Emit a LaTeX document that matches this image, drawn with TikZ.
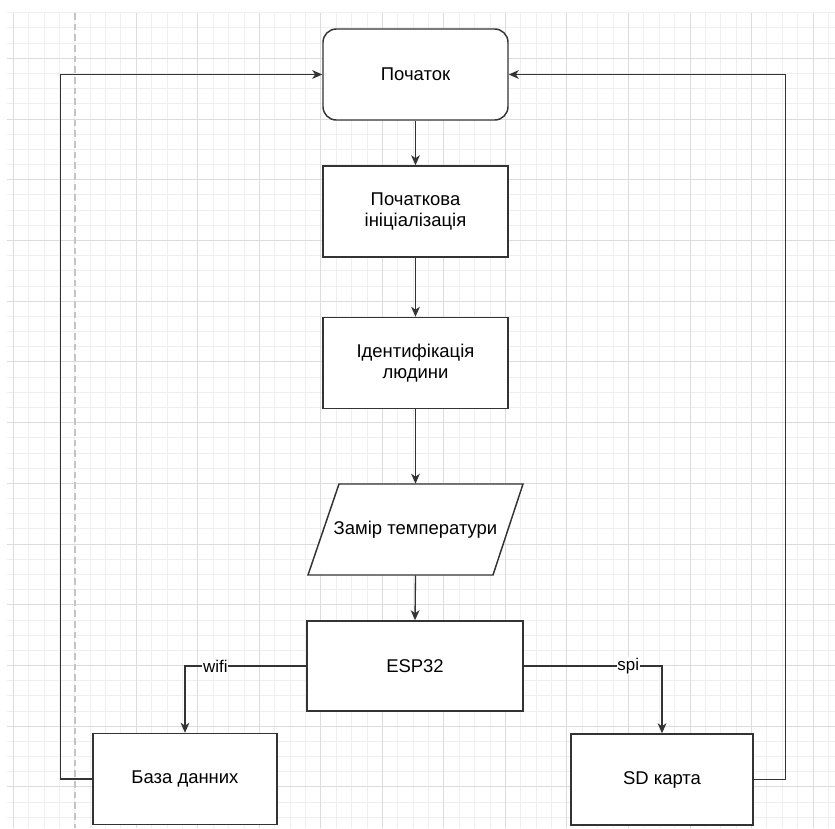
\documentclass[tikz,border=0pt]{standalone}
\usepackage{fontspec}
\setmainfont{Liberation Sans}
\usetikzlibrary{arrows.meta}
\definecolor{minorgrid}{HTML}{EFEFEF}
\definecolor{majorgrid}{HTML}{DCDCDC}
\definecolor{dashgrid}{HTML}{C4C4C4}
\definecolor{lineclr}{HTML}{333333}
\begin{document}
\begin{tikzpicture}[x=0.75pt,y=-0.75pt,
  box/.style={draw=lineclr, line width=1.1pt, fill=white, minimum width=138.75pt,
    minimum height=68.25pt, align=center, inner sep=0pt,
    font=\fontsize{13.85}{16.2}\selectfont},
  conn/.style={draw=lineclr, line width=1pt,
    -{Stealth[length=7.5pt,width=6.5pt,inset=2.2pt]}},
  elabel/.style={fill=white, inner sep=0.6pt, font=\fontsize{12.7}{14}\selectfont},
  minorline/.style={draw=minorgrid, line width=0.75pt},
  majorline/.style={draw=majorgrid, line width=0.75pt}]

\useasboundingbox (0,0) rectangle (835,828);
\fill[white] (0,0) rectangle (835,828);

% grid
\foreach \k in {0,...,53} {
  \pgfmathsetmacro\xx{13.3+\k*15.38}
  \draw[minorline] (\xx,13) -- (\xx,828);
}
\foreach \k in {0,...,53} {
  \pgfmathsetmacro\yy{12.8+\k*15.18}
  \draw[minorline] (7,\yy) -- (835,\yy);
}
\foreach \k in {0,2,3,...,13} {
  \pgfmathsetmacro\xx{13.3+\k*61.52}
  \draw[majorline] (\xx,13) -- (\xx,828);
}
\foreach \k in {0,...,12} {
  \pgfmathsetmacro\yy{58.3+\k*60.72}
  \draw[majorline] (7,\yy) -- (835,\yy);
}
\draw[dashgrid, line width=1.8pt, dash pattern=on 5pt off 3pt] (74.8,13) -- (74.8,828);

% nodes
\node[box, rounded corners=10pt] (start) at (415.5,74.5) {Початок};
\node[box] (init) at (415.5,211.5) {Початкова\\ініціалізація};
\node[box] (ident) at (415.5,363) {Ідентифікація\\людини};
\draw[draw=lineclr, line width=1.1pt, fill=white]
  (339,484) -- (523,484) -- (493,575) -- (308,575) -- cycle;
\node[minimum width=161.25pt, minimum height=68.25pt, inner sep=0pt,
  font=\fontsize{13.85}{16.2}\selectfont] (data) at (415.5,529.5) {Замір температури};
\node[box, minimum width=162pt, minimum height=67.5pt] (esp) at (415,666) {ESP32};
\node[box, minimum width=138pt] (base) at (185,779) {База данних};
\node[box, minimum width=136.5pt] (sd) at (662,779.5) {SD карта};

% connectors
\draw[conn] (start.south) -- (init.north);
\draw[conn] (init.south) -- (ident.north);
\draw[conn] (ident.south) -- (data.north);
\draw[conn] (data.south) -- (esp.north);
\draw[conn] (esp.west) -| node[elabel, pos=0.375] (wifilbl) {wifi} (base.north);
\draw[conn] (esp.east) -| node[elabel, pos=0.378] (spilbl) {spi} (sd.north);
\draw[conn] (base.west) -- ++(-32,0) |- (start.west);
\draw[conn] (sd.east) -- ++(32,0) |- (start.east);
\end{tikzpicture}
\end{document}
